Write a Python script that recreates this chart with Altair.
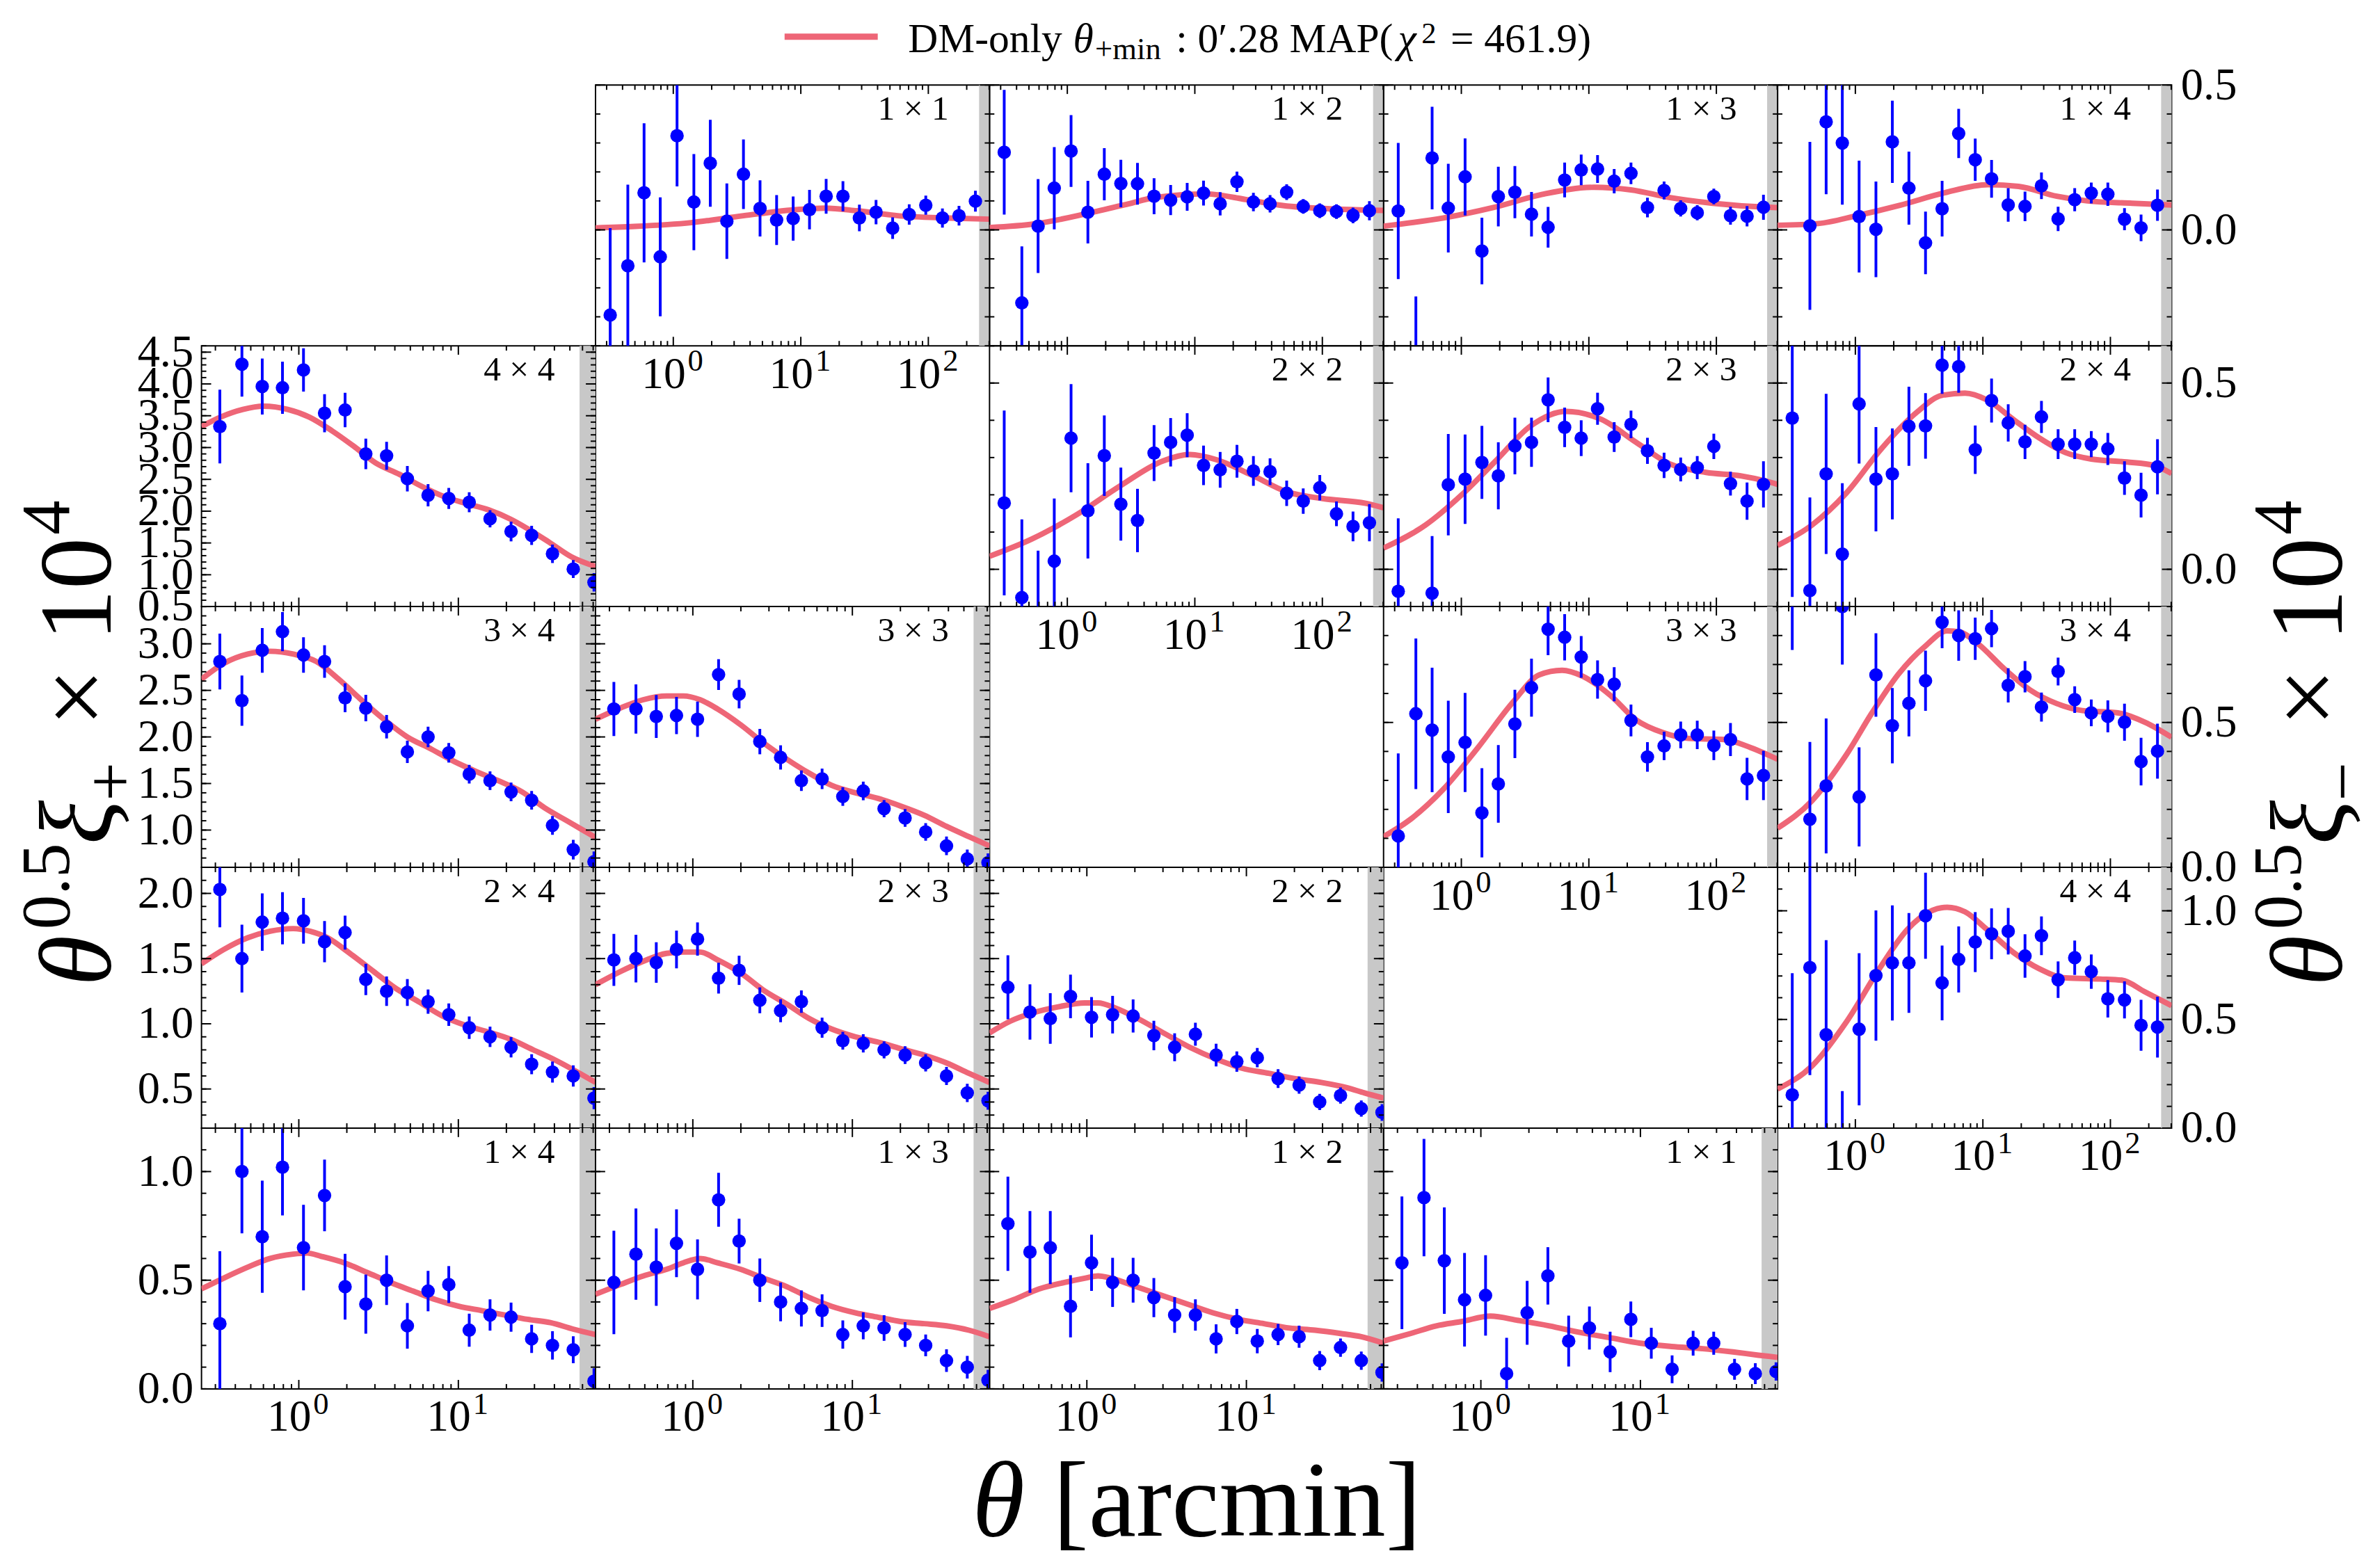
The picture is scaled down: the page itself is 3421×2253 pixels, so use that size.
import altair as alt
import pandas as pd

FONT = "Liberation Serif"
BLUE = "#0000ff"
RED = "#ee6677"
GRAY = "#c8c8c8"
W, H = 571, 378
GRID_LEFT, GRID_TOP = 291, 113          # where the panel grid starts on the page
PAGE_W, PAGE_H = 3421, 2253

# angular bin centres (arcmin)
THETA = [0.32, 0.44, 0.59, 0.79, 1.07, 1.45, 1.95, 2.63, 3.55, 4.79, 6.46, 8.71,
         11.7, 15.8, 21.4, 28.8, 38.9, 52.5, 70.8, 95.5, 129, 174, 234]

XDOM_P = [0.2455, 72.4]
XDOM_M = [0.2455, 302.0]
BAND_P = [57.5, 72.4]
BAND_M = [250.0, 302.0]
YDOM_P = {2: [0.5, 4.6], 3: [0.6, 3.4], 4: [0.2, 2.2], 5: [0.0, 1.2]}
YDOM_M = {1: [-0.4, 0.5], 2: [-0.1, 0.6], 3: [0.0, 0.9], 4: [0.0, 1.2]}

# ---------------- xi_plus data (value, error) ----------------
XIP = {
    "4x4": ([3.33, 4.31, 3.96, 3.94, 4.22, 3.54, 3.59, 2.90, 2.87, 2.51, 2.25, 2.20, 2.14, 1.88, 1.68, 1.62, 1.33, 1.09, 0.88],
            [0.58, 0.51, 0.44, 0.41, 0.34, 0.30, 0.27, 0.24, 0.22, 0.20, 0.175, 0.165, 0.157, 0.135, 0.155, 0.15, 0.145, 0.14, 0.145]),
    "3x4": ([2.81, 2.39, 2.93, 3.13, 2.88, 2.81, 2.42, 2.31, 2.11, 1.84, 2.00, 1.83, 1.60, 1.53, 1.41, 1.32, 1.05, 0.79, 0.66],
            [0.30, 0.27, 0.24, 0.21, 0.19, 0.175, 0.155, 0.142, 0.126, 0.12, 0.11, 0.105, 0.10, 0.10, 0.10, 0.10, 0.10, 0.105, 0.11]),
    "3x3": ([2.30, 2.30, 2.22, 2.23, 2.19, 2.67, 2.46, 1.95, 1.78, 1.53, 1.55, 1.36, 1.42, 1.23, 1.13, 0.98, 0.83, 0.69, 0.65],
            [0.29, 0.265, 0.23, 0.20, 0.19, 0.165, 0.153, 0.136, 0.13, 0.11, 0.11, 0.10, 0.10, 0.092, 0.095, 0.095, 0.10, 0.10, 0.10]),
    "2x4": ([2.03, 1.50, 1.78, 1.81, 1.79, 1.63, 1.70, 1.34, 1.25, 1.24, 1.17, 1.07, 0.97, 0.90, 0.82, 0.69, 0.63, 0.60, 0.43],
            [0.29, 0.26, 0.22, 0.20, 0.175, 0.158, 0.13, 0.12, 0.113, 0.103, 0.093, 0.086, 0.086, 0.078, 0.078, 0.077, 0.081, 0.081, 0.085]),
    "2x3": ([1.49, 1.50, 1.47, 1.57, 1.65, 1.35, 1.41, 1.18, 1.10, 1.17, 0.97, 0.87, 0.85, 0.80, 0.76, 0.70, 0.60, 0.47, 0.41],
            [0.20, 0.183, 0.155, 0.145, 0.128, 0.118, 0.112, 0.099, 0.088, 0.086, 0.077, 0.068, 0.07, 0.065, 0.068, 0.066, 0.069, 0.07, 0.069]),
    "2x2": ([1.28, 1.09, 1.04, 1.21, 1.05, 1.07, 1.06, 0.91, 0.82, 0.92, 0.76, 0.71, 0.74, 0.58, 0.53, 0.40, 0.45, 0.35, 0.32],
            [0.245, 0.212, 0.194, 0.167, 0.155, 0.144, 0.127, 0.113, 0.107, 0.088, 0.087, 0.078, 0.074, 0.072, 0.066, 0.062, 0.062, 0.062, 0.064]),
    "1x4": ([0.30, 1.00, 0.70, 1.02, 0.65, 0.89, 0.47, 0.39, 0.50, 0.29, 0.45, 0.48, 0.27, 0.34, 0.33, 0.23, 0.20, 0.18, 0.035],
            [0.333, 0.284, 0.258, 0.222, 0.197, 0.165, 0.151, 0.136, 0.114, 0.105, 0.093, 0.085, 0.076, 0.072, 0.067, 0.065, 0.065, 0.062, 0.06]),
    "1x3": ([0.49, 0.62, 0.56, 0.67, 0.55, 0.87, 0.68, 0.50, 0.40, 0.37, 0.36, 0.25, 0.29, 0.28, 0.25, 0.20, 0.13, 0.10, 0.04],
            [0.238, 0.21, 0.178, 0.156, 0.138, 0.124, 0.103, 0.10, 0.089, 0.083, 0.075, 0.065, 0.062, 0.059, 0.057, 0.05, 0.052, 0.052, 0.048]),
    "1x2": ([0.76, 0.63, 0.65, 0.38, 0.58, 0.49, 0.50, 0.42, 0.34, 0.34, 0.23, 0.31, 0.22, 0.25, 0.24, 0.13, 0.19, 0.13, 0.075],
            [0.217, 0.188, 0.168, 0.143, 0.129, 0.113, 0.103, 0.09, 0.082, 0.072, 0.067, 0.058, 0.056, 0.049, 0.051, 0.044, 0.042, 0.042, 0.042]),
    "1x1": ([0.58, 0.88, 0.59, 0.41, 0.43, 0.07, 0.35, 0.52, 0.22, 0.28, 0.17, 0.32, 0.21, 0.09, 0.21, 0.21, 0.09, 0.07, 0.08],
            [0.305, 0.27, 0.245, 0.215, 0.185, 0.165, 0.147, 0.132, 0.117, 0.099, 0.093, 0.082, 0.071, 0.064, 0.057, 0.053, 0.048, 0.048, 0.042]),
}

# ---------------- xi_minus data (value, error); None = off the panel ----------------
XIM = {
    "1x1": ([-0.294, -0.124, 0.128, -0.093, 0.325, 0.096, 0.230, 0.030, 0.192, 0.074, 0.034, 0.039, 0.070, 0.116, 0.116, 0.041, 0.061, 0.006, 0.053, 0.085, 0.041, 0.049, 0.099],
            [0.30, 0.28, 0.24, 0.205, 0.175, 0.166, 0.15, 0.13, 0.12, 0.097, 0.086, 0.076, 0.068, 0.06, 0.052, 0.046, 0.042, 0.037, 0.035, 0.033, 0.033, 0.034, 0.036]),
    "1x2": ([0.268, -0.252, 0.013, 0.144, 0.272, 0.061, 0.192, 0.160, 0.159, 0.116, 0.103, 0.114, 0.127, 0.090, 0.166, 0.096, 0.090, 0.130, 0.081, 0.066, 0.063, 0.050, 0.066],
            [0.215, 0.195, 0.162, 0.142, 0.124, 0.108, 0.09, 0.082, 0.072, 0.062, 0.052, 0.048, 0.043, 0.04, 0.035, 0.032, 0.03, 0.027, 0.025, 0.025, 0.025, 0.027, 0.033]),
    "1x3": ([0.065, -0.43, 0.248, 0.075, 0.183, -0.073, 0.115, 0.130, 0.054, 0.009, 0.172, 0.207, 0.210, 0.168, 0.195, 0.077, 0.136, 0.074, 0.059, 0.115, 0.049, 0.047, 0.078],
            [0.235, 0.20, 0.177, 0.153, 0.133, 0.115, 0.103, 0.09, 0.077, 0.07, 0.06, 0.053, 0.048, 0.042, 0.037, 0.034, 0.031, 0.028, 0.026, 0.027, 0.031, 0.035, 0.043]),
    "1x4": ([None, 0.014, 0.373, 0.300, 0.046, 0.002, 0.304, 0.144, -0.045, 0.073, 0.333, 0.242, 0.176, 0.086, 0.081, 0.152, 0.038, 0.104, 0.127, 0.123, 0.037, 0.007, 0.085],
            [None, 0.29, 0.25, 0.213, 0.193, 0.165, 0.142, 0.126, 0.108, 0.096, 0.085, 0.073, 0.065, 0.058, 0.051, 0.046, 0.042, 0.04, 0.036, 0.04, 0.038, 0.046, 0.054]),
    "2x2": ([0.178, -0.076, -0.14, 0.022, 0.352, 0.157, 0.305, 0.175, 0.131, 0.312, 0.341, 0.360, 0.279, 0.267, 0.290, 0.264, 0.262, 0.204, 0.183, 0.219, 0.149, 0.115, 0.125],
            [0.248, 0.21, 0.19, 0.168, 0.145, 0.128, 0.108, 0.098, 0.085, 0.075, 0.065, 0.059, 0.053, 0.048, 0.044, 0.04, 0.036, 0.034, 0.034, 0.034, 0.033, 0.04, 0.05]),
    "2x3": ([-0.059, None, -0.064, 0.227, 0.242, 0.287, 0.251, 0.331, 0.341, 0.455, 0.381, 0.352, 0.431, 0.355, 0.389, 0.318, 0.279, 0.268, 0.273, 0.330, 0.230, 0.183, 0.228],
            [0.196, None, 0.153, 0.136, 0.12, 0.098, 0.09, 0.076, 0.066, 0.06, 0.053, 0.048, 0.043, 0.04, 0.037, 0.035, 0.034, 0.032, 0.031, 0.034, 0.032, 0.05, 0.062]),
    "2x4": ([0.406, -0.057, 0.256, 0.041, 0.444, 0.242, 0.256, 0.384, 0.385, 0.548, 0.544, 0.321, 0.453, 0.393, 0.342, 0.409, 0.336, 0.336, 0.336, 0.323, 0.245, 0.199, 0.275],
            [0.48, 0.25, 0.215, 0.19, 0.16, 0.14, 0.122, 0.106, 0.088, 0.077, 0.07, 0.065, 0.059, 0.05, 0.046, 0.043, 0.04, 0.04, 0.035, 0.043, 0.045, 0.06, 0.074]),
    "3x3": ([0.108, 0.530, 0.474, 0.381, 0.431, 0.188, 0.288, 0.495, 0.620, 0.822, 0.794, 0.726, 0.648, 0.632, 0.507, 0.381, 0.419, 0.457, 0.457, 0.421, 0.441, 0.305, 0.317],
            [0.285, 0.26, 0.215, 0.194, 0.171, 0.154, 0.134, 0.118, 0.10, 0.09, 0.08, 0.072, 0.066, 0.059, 0.055, 0.051, 0.049, 0.046, 0.049, 0.051, 0.057, 0.073, 0.085]),
    "3x4": ([1.05, 0.166, 0.281, 0.900, 0.243, 0.664, 0.489, 0.566, 0.644, 0.846, 0.800, 0.789, 0.824, 0.628, 0.658, 0.553, 0.676, 0.579, 0.533, 0.521, 0.501, 0.365, 0.401],
            [0.30, 0.267, 0.233, 0.2, 0.171, 0.144, 0.13, 0.114, 0.104, 0.09, 0.087, 0.073, 0.064, 0.059, 0.054, 0.05, 0.048, 0.046, 0.046, 0.055, 0.064, 0.082, 0.095]),
    "4x4": ([0.153, 0.739, 0.430, -0.20, 0.455, 0.702, 0.760, 0.760, 0.977, 0.668, 0.776, 0.856, 0.894, 0.906, 0.792, 0.885, 0.683, 0.784, 0.720, 0.595, 0.590, 0.473, 0.465],
            [0.56, 0.495, 0.435, 0.37, 0.35, 0.30, 0.265, 0.23, 0.198, 0.172, 0.152, 0.138, 0.117, 0.107, 0.10, 0.089, 0.084, 0.079, 0.079, 0.086, 0.085, 0.117, 0.14]),
}

# ---------------- model curves: (log10 theta, value) ----------------
LX_A = [-0.61, -0.455, -0.31, -0.165, -0.06, 0.045, 0.155, 0.30, 0.44, 0.59, 0.73, 0.87, 1.02, 1.16, 1.30, 1.45, 1.59, 1.73, 1.86]
MODEL_P = {
    "4x4": ([-0.61, -0.49, -0.35, -0.22, -0.07, 0.065, 0.21, 0.35, 0.48, 0.63, 0.77, 0.91, 1.05, 1.19, 1.33, 1.43, 1.57, 1.71, 1.86],
            [3.33, 3.48, 3.60, 3.65, 3.60, 3.48, 3.26, 3.01, 2.76, 2.58, 2.39, 2.23, 2.12, 2.02, 1.87, 1.73, 1.51, 1.28, 1.13]),
    "3x4": ([-0.61, -0.47, -0.32, -0.18, -0.035, 0.11, 0.25, 0.39, 0.54, 0.68, 0.83, 0.97, 1.11, 1.25, 1.40, 1.54, 1.69, 1.86],
            [2.62, 2.79, 2.89, 2.92, 2.89, 2.81, 2.62, 2.40, 2.18, 2.00, 1.87, 1.74, 1.63, 1.53, 1.41, 1.24, 1.09, 0.92]),
    "3x3": (LX_A, [2.19, 2.31, 2.40, 2.44, 2.44, 2.40, 2.30, 2.13, 1.94, 1.76, 1.61, 1.48, 1.40, 1.34, 1.26, 1.16, 1.04, 0.93, 0.83]),
    "2x4": ([-0.61, -0.47, -0.32, -0.18, -0.035, 0.07, 0.18, 0.32, 0.47, 0.61, 0.75, 0.90, 1.04, 1.18, 1.33, 1.47, 1.61, 1.76, 1.86],
            [1.46, 1.57, 1.66, 1.71, 1.73, 1.71, 1.66, 1.54, 1.40, 1.27, 1.17, 1.06, 0.99, 0.94, 0.88, 0.80, 0.72, 0.62, 0.55]),
    "2x3": (LX_A, [1.30, 1.40, 1.48, 1.54, 1.55, 1.55, 1.49, 1.39, 1.26, 1.15, 1.04, 0.96, 0.90, 0.86, 0.81, 0.76, 0.70, 0.62, 0.55]),
    "2x2": ([-0.61, -0.48, -0.35, -0.18, -0.013, 0.07, 0.18, 0.32, 0.48, 0.645, 0.81, 0.97, 1.14, 1.30, 1.47, 1.63, 1.74, 1.86],
            [0.93, 1.02, 1.08, 1.13, 1.16, 1.16, 1.12, 1.04, 0.93, 0.82, 0.73, 0.66, 0.62, 0.58, 0.55, 0.51, 0.47, 0.43]),
    "1x4": ([-0.61, -0.47, -0.32, -0.18, -0.035, 0.052, 0.14, 0.285, 0.43, 0.573, 0.716, 0.86, 1.003, 1.146, 1.29, 1.434, 1.577, 1.72, 1.86],
            [0.46, 0.51, 0.56, 0.60, 0.62, 0.625, 0.61, 0.58, 0.535, 0.49, 0.45, 0.41, 0.38, 0.36, 0.34, 0.32, 0.305, 0.275, 0.25]),
    "1x3": (LX_A, [0.435, 0.48, 0.52, 0.55, 0.58, 0.60, 0.58, 0.55, 0.51, 0.47, 0.42, 0.38, 0.35, 0.33, 0.31, 0.30, 0.29, 0.27, 0.24]),
    "1x2": ([-0.61, -0.46, -0.30, -0.14, -0.009, 0.07, 0.15, 0.31, 0.47, 0.63, 0.79, 0.95, 1.11, 1.27, 1.43, 1.59, 1.72, 1.86],
            [0.37, 0.41, 0.46, 0.49, 0.51, 0.52, 0.51, 0.47, 0.43, 0.39, 0.35, 0.32, 0.30, 0.28, 0.27, 0.255, 0.24, 0.21]),
    "1x1": ([-0.61, -0.44, -0.28, -0.12, 0.06, 0.235, 0.43, 0.62, 0.81, 1.00, 1.195, 1.39, 1.58, 1.74, 1.86],
            [0.22, 0.255, 0.29, 0.31, 0.335, 0.315, 0.29, 0.26, 0.235, 0.21, 0.195, 0.185, 0.17, 0.155, 0.145]),
}
MODEL_M = {
    "1x1": ([-0.61, -0.3, 0.14, 0.55, 0.99, 1.19, 1.44, 1.76, 2.16, 2.48],
            [0.007, 0.012, 0.025, 0.049, 0.071, 0.075, 0.066, 0.049, 0.041, 0.037]),
    "1x2": ([-0.61, -0.25, 0.16, 0.48, 0.68, 1.09, 1.41, 1.69, 2.10, 2.38, 2.48],
            [0.008, 0.021, 0.057, 0.090, 0.111, 0.124, 0.104, 0.084, 0.072, 0.068, 0.067]),
    "1x3": ([-0.61, -0.14, 0.25, 0.65, 1.04, 1.33, 1.63, 1.97, 2.41, 2.48],
            [0.013, 0.041, 0.077, 0.124, 0.147, 0.138, 0.112, 0.092, 0.078, 0.077]),
    "1x4": ([-0.61, -0.29, 0.01, 0.35, 0.70, 1.04, 1.28, 1.58, 1.82, 2.17, 2.48],
            [0.016, 0.022, 0.049, 0.085, 0.128, 0.156, 0.150, 0.116, 0.100, 0.092, 0.086]),
    "2x2": ([-0.61, -0.28, 0.07, 0.41, 0.75, 0.96, 1.17, 1.44, 1.72, 2.00, 2.34, 2.48],
            [0.035, 0.081, 0.146, 0.223, 0.291, 0.308, 0.294, 0.254, 0.208, 0.190, 0.177, 0.165]),
    "2x3": ([-0.61, -0.28, 0.0, 0.27, 0.54, 0.82, 1.10, 1.37, 1.64, 1.92, 2.19, 2.43, 2.48],
            [0.057, 0.119, 0.199, 0.291, 0.384, 0.424, 0.402, 0.341, 0.282, 0.260, 0.251, 0.233, 0.228]),
    "2x4": ([-0.61, -0.34, -0.07, 0.20, 0.48, 0.68, 0.86, 1.03, 1.24, 1.44, 1.65, 1.85, 2.13, 2.34, 2.48],
            [0.064, 0.119, 0.205, 0.322, 0.421, 0.467, 0.473, 0.455, 0.402, 0.353, 0.313, 0.296, 0.288, 0.279, 0.257]),
    "3x3": ([-0.61, -0.41, -0.14, 0.13, 0.41, 0.61, 0.79, 0.95, 1.17, 1.37, 1.58, 1.78, 2.06, 2.27, 2.48],
            [0.106, 0.162, 0.270, 0.413, 0.573, 0.664, 0.680, 0.660, 0.593, 0.509, 0.465, 0.445, 0.441, 0.413, 0.373]),
    "3x4": ([-0.61, -0.34, -0.07, 0.13, 0.34, 0.55, 0.72, 0.82, 0.96, 1.17, 1.37, 1.58, 1.78, 2.06, 2.27, 2.48],
            [0.135, 0.230, 0.389, 0.533, 0.668, 0.764, 0.816, 0.812, 0.772, 0.684, 0.612, 0.565, 0.541, 0.533, 0.501, 0.449]),
    "4x4": ([-0.61, -0.34, -0.07, 0.20, 0.41, 0.58, 0.72, 0.86, 1.03, 1.24, 1.44, 1.65, 1.92, 2.09, 2.27, 2.48],
            [0.180, 0.286, 0.489, 0.744, 0.915, 0.995, 1.016, 0.995, 0.915, 0.808, 0.734, 0.691, 0.686, 0.681, 0.627, 0.563]),
}

# grid layout: (row, col) -> (kind, key); kind p = xi_plus, m = xi_minus
GRID = {
    (1, 2): ("m", "1x1"), (1, 3): ("m", "1x2"), (1, 4): ("m", "1x3"), (1, 5): ("m", "1x4"),
    (2, 1): ("p", "4x4"), (2, 3): ("m", "2x2"), (2, 4): ("m", "2x3"), (2, 5): ("m", "2x4"),
    (3, 1): ("p", "3x4"), (3, 2): ("p", "3x3"), (3, 4): ("m", "3x3"), (3, 5): ("m", "3x4"),
    (4, 1): ("p", "2x4"), (4, 2): ("p", "2x3"), (4, 3): ("p", "2x2"), (4, 5): ("m", "4x4"),
    (5, 1): ("p", "1x4"), (5, 2): ("p", "1x3"), (5, 3): ("p", "1x2"), (5, 4): ("p", "1x1"),
}

X_MAJOR = [1, 10, 100]
X_EXP = ["0", "1", "2"]
X_MINOR = [0.3, 0.4, 0.5, 0.6, 0.7, 0.8, 0.9, 2, 3, 4, 5, 6, 7, 8, 9,
           20, 30, 40, 50, 60, 70, 80, 90, 200, 300]

ONE = alt.Data(values=[{"k": 0}])


def yticks(dom, step):
    out = []
    k = int(round(dom[0] / step)) - 1
    while k * step <= dom[1] + 1e-9:
        v = round(k * step, 3)
        if dom[0] - 1e-9 <= v <= dom[1] + 1e-9:
            out.append(v)
        k += 1
    return out


def txt(s, x, y, size, angle=0, italic=False, align="left", baseline="alphabetic"):
    kw = dict(align=align, baseline=baseline, fontSize=size, font=FONT, color="black")
    if angle:
        kw["angle"] = angle
    if italic:
        kw["fontStyle"] = "italic"
    return alt.Chart(ONE).mark_text(**kw).encode(
        x=alt.value(x), y=alt.value(y), text=alt.value(s))


def anchor(x, y):
    # invisible 1px box that pins the page extent
    return alt.Chart(ONE).mark_rect(opacity=0).encode(
        x=alt.value(x), x2=alt.value(x + 1), y=alt.value(y), y2=alt.value(y + 1))


def ytitle(xb, sign):
    F, f = 150, 100
    return [txt("θ", xb, 550, F, 270, True),
            txt("0.5", xb - 60, 468, f, 270),
            txt("ξ", xb, 345, F, 270, True),
            txt(sign, xb + 34, 282, f, 270),
            txt("×", xb, 174, F, 270),
            txt("10", xb, 50, F, 270),
            txt("4", xb - 60, -104, f, 270)]


def extras(row, col):
    out = []
    if (row, col) == (1, 3):  # legend
        out.append(alt.Chart(ONE).mark_rule(color=RED, strokeWidth=9).encode(
            x=alt.value(-297), x2=alt.value(-162), y=alt.value(-70)))
        out += [txt("DM-only", -118, -48, 60), txt("θ", 121, -48, 60, italic=True),
                txt("+min", 153, -38, 45), txt(": 0′.28 MAP(", 270, -48, 60),
                txt("χ", 592, -48, 60, italic=True), txt("2", 626, -61, 43),
                txt("= 461.9)", 668, -48, 60)]
    if (row, col) == (3, 1):
        out += ytitle(-132, "+")
    if (row, col) == (3, 5):
        out += ytitle(818, "−")
    if (row, col) == (5, 3):  # x title
        out += [txt("θ", -25, 591, 155, italic=True), txt("[arcmin]", 92, 591, 155)]
    return out


def panel(row, col):
    kind, key = GRID[(row, col)]
    is_p = kind == "p"
    xdom = XDOM_P if is_p else XDOM_M
    ydom = (YDOM_P if is_p else YDOM_M)[row]
    ys, es = (XIP if is_p else XIM)[key]
    recs = [dict(x=THETA[i], y=ys[i], lo=ys[i] - es[i], hi=ys[i] + es[i])
            for i in range(len(ys)) if ys[i] is not None]
    df = pd.DataFrame(recs)
    lx, ly = (MODEL_P if is_p else MODEL_M)[key]
    mdf = pd.DataFrame({"x": [10 ** v for v in lx], "y": ly})
    band = BAND_P if is_p else BAND_M
    bdf = pd.DataFrame({"b0": [band[0]], "b1": [band[1]]})

    xs = alt.Scale(type="log", domain=xdom)
    ysc = alt.Scale(domain=ydom, nice=False, zero=False)

    show_x = (is_p and row == 5) or ((not is_p) and col == row + 1)
    yopts = dict(values=yticks(ydom, 0.5), format=".1f", ticks=False, domain=False,
                 grid=False, title=None, labelFont=FONT, labelFontSize=65,
                 labelColor="black", labelOverlap=False, labelFlush=False)
    if is_p and col == 1:
        yaxis = alt.Axis(orient="left", labelPadding=12, **yopts)
    elif (not is_p) and col == 5:
        yaxis = alt.Axis(orient="right", labelPadding=13, **yopts)
    else:
        yaxis = None

    def X(f):
        return alt.X(f, type="quantitative", scale=xs, axis=None)

    def Y(f):
        return alt.Y(f, type="quantitative", scale=ysc, axis=yaxis)

    layers = []
    layers.append(alt.Chart(bdf).mark_rect(color=GRAY).encode(
        x=X("b0"), x2="b1:Q", y=alt.value(0), y2=alt.value(H)))
    layers.append(alt.Chart(mdf).mark_line(color=RED, strokeWidth=8, interpolate="monotone", clip=True).encode(
        x=X("x"), y=Y("y")))
    layers.append(alt.Chart(df).mark_rule(color=BLUE, strokeWidth=4, clip=True).encode(
        x=X("x"), y=Y("lo"), y2="hi:Q"))
    layers.append(alt.Chart(df).mark_circle(color=BLUE, size=380, opacity=1, clip=True).encode(
        x=X("x"), y=Y("y")))

    # inward ticks on all four sides
    nmaj = [i for i, v in enumerate(X_MAJOR) if xdom[0] <= v <= xdom[1]]
    xmaj = pd.DataFrame({"t": [X_MAJOR[i] for i in nmaj], "e": [X_EXP[i] for i in nmaj]})
    xmin = pd.DataFrame({"t": [v for v in X_MINOR if xdom[0] <= v <= xdom[1]]})
    ymaj = pd.DataFrame({"t": yticks(ydom, 0.5)})
    ymin = pd.DataFrame({"t": yticks(ydom, 0.1)})
    for tdf, ln in ((xmaj, 13), (xmin, 7)):
        for y0, y1 in ((0, ln), (H, H - ln)):
            layers.append(alt.Chart(tdf).mark_rule(color="black", strokeWidth=2).encode(
                x=X("t"), y=alt.value(y0), y2=alt.value(y1)))
    for tdf, ln in ((ymaj, 14), (ymin, 7)):
        for x0, x1 in ((0, ln), (W, W - ln)):
            layers.append(alt.Chart(tdf).mark_rule(color="black", strokeWidth=2).encode(
                y=Y("t"), x=alt.value(x0), x2=alt.value(x1)))

    # x tick labels 10^n (base + raised exponent)
    if show_x:
        layers.append(alt.Chart(xmaj).mark_text(
            align="right", baseline="alphabetic", fontSize=64, font=FONT, color="black", dx=18).encode(
            x=X("t"), y=alt.value(H + 61), text=alt.value("10")))
        layers.append(alt.Chart(xmaj).mark_text(
            align="left", baseline="alphabetic", fontSize=45, font=FONT, color="black", dx=21).encode(
            x=X("t"), y=alt.value(H + 36), text="e:N"))

    a, b = key.split("x")
    layers.append(txt(f"{a} × {b}", W - 59, 50, 50, align="right"))
    layers += extras(row, col)
    return alt.layer(*layers).properties(width=W, height=H)


def empty(row, col):
    layers = [alt.Chart(ONE).mark_point(opacity=0).encode(x=alt.value(0), y=alt.value(0))]
    if (row, col) == (1, 1):
        layers.append(anchor(-GRID_LEFT, -GRID_TOP))
    if (row, col) == (5, 5):
        layers.append(anchor(PAGE_W - GRID_LEFT - 4 * W - 1, PAGE_H - GRID_TOP - 4 * H - 1))
    return alt.layer(*layers).properties(
        width=W, height=H, view=alt.ViewBackground(stroke="transparent"))


cells = []
for r in range(1, 6):
    for c in range(1, 6):
        cells.append(panel(r, c) if (r, c) in GRID else empty(r, c))

chart = alt.concat(*cells, columns=5, spacing=0, bounds="flush").properties(
    padding=0,
    background="white",
).configure_view(stroke="black", strokeWidth=2)

chart.save("out.html", embed_options={"renderer": "svg", "actions": False})
